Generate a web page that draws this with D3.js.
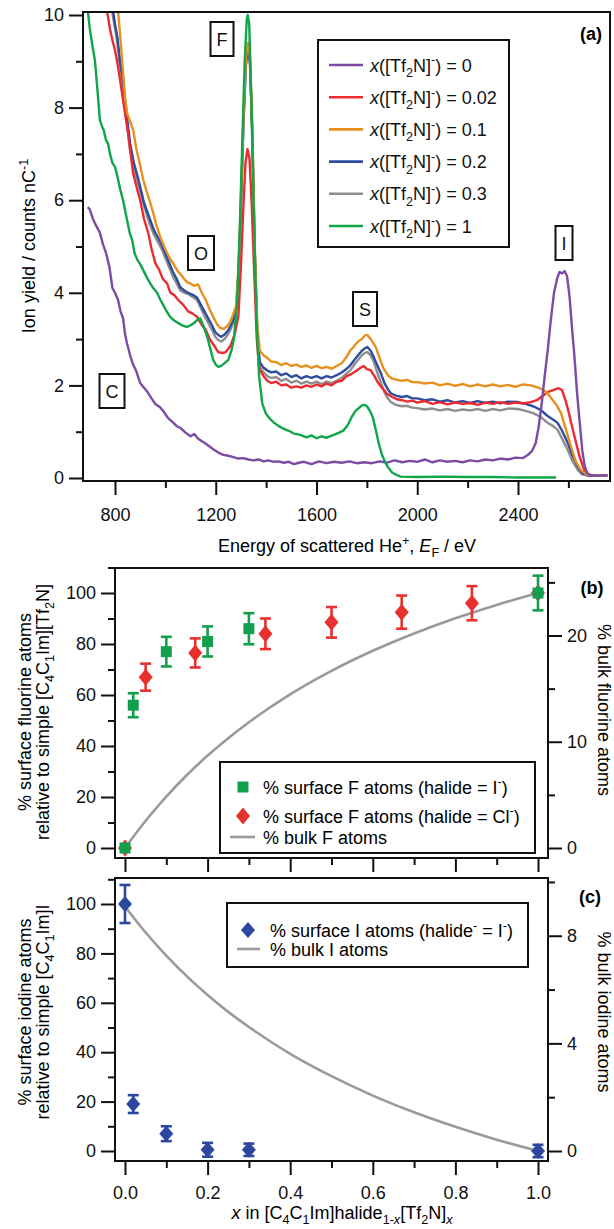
<!DOCTYPE html>
<html><head><meta charset="utf-8">
<script src="https://cdn.jsdelivr.net/npm/d3@7"></script>
<style>
body{margin:0;background:#fff}
svg text{font-family:"Liberation Sans",Arial,Helvetica,sans-serif}
</style></head>
<body><svg id="c" width="614" height="1229"></svg>
<script>
// ---------------- DATA ----------------
// Panel (a): ion yield spectra [energy eV, counts/nC]
const specX0 = [[692,5.85],[700,5.8],[712,5.6],[725,5.45],[740,5.3],[752,5.05],[765,4.85],[778,4.55],[790,4.1],[800,4.0],[812,3.85],[822,3.6],[832,3.45],[840,3.1],[848,2.9],[860,2.65],[872,2.45],[885,2.3],[900,2.05],[915,1.95],[930,1.85],[945,1.72],[960,1.6],[979,1.53],[995,1.42],[1010,1.3],[1030,1.2],[1045,1.12],[1060,1.08],[1080,0.98],[1100,0.9],[1115,0.95],[1130,0.85],[1150,0.78],[1170,0.7],[1190,0.62],[1210,0.55],[1230,0.5],[1250,0.48],[1270,0.45],[1290,0.42],[1310,0.43],[1330,0.4],[1350,0.38],[1370,0.4],[1390,0.36],[1410,0.38],[1430,0.35],[1450,0.36],[1470,0.33],[1490,0.35],[1510,0.3],[1530,0.33],[1550,0.35],[1580,0.3],[1610,0.36],[1640,0.32],[1670,0.35],[1700,0.33],[1730,0.36],[1760,0.32],[1790,0.34],[1820,0.32],[1850,0.36],[1880,0.33],[1910,0.38],[1940,0.34],[1970,0.37],[2000,0.35],[2030,0.4],[2060,0.34],[2090,0.38],[2120,0.35],[2150,0.37],[2180,0.34],[2210,0.38],[2240,0.36],[2270,0.4],[2300,0.38],[2330,0.42],[2360,0.4],[2390,0.44],[2420,0.43],[2440,0.5],[2455,0.58],[2470,0.75],[2482,1.1],[2494,1.6],[2506,2.2],[2518,2.76],[2530,3.4],[2543,4.0],[2555,4.3],[2565,4.45],[2575,4.42],[2585,4.47],[2595,4.35],[2605,3.9],[2615,3.2],[2623,2.7],[2635,1.8],[2645,1.2],[2655,0.6],[2665,0.25],[2675,0.1],[2690,0.06],[2720,0.05],[2755,0.06]];
const specX002 = [[768,10.1],[780,9.7],[790,9.45],[800,9.24],[810,8.95],[820,8.6],[832,8.16],[842,7.8],[852,7.45],[862,7.0],[872,6.58],[885,6.3],[900,6.0],[915,5.6],[932,5.29],[945,4.95],[960,4.64],[975,4.5],[990,4.3],[1007,4.2],[1020,4.0],[1035,3.95],[1050,3.85],[1071,3.74],[1090,3.6],[1108,3.55],[1126,3.48],[1145,3.3],[1160,3.2],[1178,2.98],[1195,2.85],[1210,2.72],[1225,2.7],[1240,2.72],[1258,2.85],[1275,3.1],[1290,3.5],[1300,4.6],[1310,5.9],[1318,6.8],[1326,7.1],[1334,6.9],[1343,5.9],[1353,4.4],[1363,3.0],[1373,2.35],[1390,2.2],[1405,2.1],[1420,2.05],[1440,2.08],[1460,2.0],[1480,2.02],[1500,1.95],[1520,1.98],[1540,1.95],[1560,2.0],[1580,1.97],[1600,2.02],[1620,1.98],[1640,2.04],[1660,2.0],[1680,2.08],[1700,2.1],[1720,2.2],[1740,2.25],[1760,2.32],[1775,2.38],[1788,2.42],[1800,2.35],[1815,2.33],[1830,2.2],[1845,2.05],[1860,1.95],[1880,1.82],[1900,1.75],[1920,1.7],[1940,1.68],[1960,1.65],[1980,1.67],[2000,1.63],[2030,1.66],[2060,1.6],[2090,1.64],[2120,1.59],[2150,1.63],[2180,1.6],[2210,1.62],[2240,1.58],[2270,1.63],[2300,1.6],[2330,1.64],[2360,1.6],[2390,1.63],[2420,1.61],[2450,1.64],[2475,1.68],[2500,1.78],[2520,1.86],[2540,1.9],[2560,1.94],[2575,1.9],[2590,1.65],[2600,1.45],[2615,1.1],[2631,0.75],[2645,0.45],[2663,0.17],[2680,0.07],[2700,0.05],[2755,0.05]];
const specX01 = [[812,10.1],[820,9.6],[830,8.9],[840,8.2],[848,7.88],[860,7.7],[872,7.52],[885,7.1],[900,6.75],[912,6.44],[925,6.2],[940,5.95],[952,5.72],[965,5.45],[980,5.2],[995,5.0],[1007,4.86],[1020,4.72],[1031,4.64],[1045,4.5],[1060,4.4],[1075,4.3],[1086,4.23],[1100,4.2],[1115,4.15],[1130,4.18],[1145,4.0],[1160,3.85],[1175,3.65],[1190,3.48],[1205,3.32],[1218,3.24],[1232,3.22],[1245,3.28],[1258,3.37],[1270,3.55],[1280,3.7],[1290,4.5],[1300,6.0],[1310,7.8],[1320,9.1],[1328,9.4],[1336,9.1],[1345,7.6],[1355,5.0],[1365,3.3],[1375,2.75],[1390,2.65],[1405,2.59],[1420,2.52],[1440,2.5],[1460,2.44],[1480,2.48],[1500,2.42],[1520,2.45],[1540,2.4],[1560,2.43],[1580,2.38],[1600,2.42],[1620,2.37],[1640,2.4],[1660,2.36],[1680,2.42],[1700,2.48],[1720,2.62],[1735,2.76],[1750,2.85],[1765,2.95],[1780,3.0],[1792,3.08],[1802,3.09],[1815,3.0],[1825,2.92],[1835,2.83],[1850,2.6],[1865,2.38],[1883,2.22],[1900,2.15],[1920,2.12],[1940,2.1],[1960,2.12],[1980,2.07],[2000,2.07],[2030,2.04],[2060,2.06],[2090,2.0],[2120,2.04],[2150,1.99],[2180,2.03],[2210,1.98],[2240,2.02],[2270,1.98],[2300,2.02],[2330,1.98],[2360,2.01],[2390,1.97],[2420,2.02],[2452,2.0],[2480,1.95],[2500,1.9],[2518,1.83],[2535,1.7],[2550,1.6],[2571,1.4],[2590,1.05],[2611,0.67],[2630,0.35],[2650,0.17],[2670,0.08],[2700,0.05],[2755,0.05]];
const specX02 = [[792,10.1],[800,9.8],[810,9.5],[820,9.0],[832,8.6],[845,7.9],[860,7.23],[875,6.8],[888,6.55],[900,6.29],[915,5.95],[928,5.75],[940,5.57],[955,5.35],[970,5.2],[985,5.05],[1000,4.85],[1015,4.65],[1030,4.45],[1045,4.3],[1059,4.12],[1075,4.05],[1090,4.0],[1111,3.95],[1125,3.9],[1140,3.75],[1155,3.6],[1170,3.45],[1185,3.3],[1198,3.15],[1210,3.09],[1222,3.05],[1235,3.1],[1248,3.18],[1260,3.3],[1272,3.45],[1282,3.7],[1290,4.4],[1300,5.9],[1310,7.7],[1320,9.0],[1328,9.3],[1336,9.0],[1345,7.5],[1355,4.9],[1365,3.1],[1375,2.5],[1390,2.38],[1405,2.32],[1420,2.28],[1440,2.3],[1460,2.22],[1480,2.26],[1500,2.18],[1520,2.22],[1540,2.15],[1560,2.2],[1580,2.16],[1600,2.2],[1620,2.15],[1640,2.2],[1660,2.17],[1680,2.22],[1700,2.28],[1720,2.36],[1735,2.44],[1750,2.55],[1765,2.65],[1780,2.75],[1792,2.8],[1802,2.83],[1815,2.75],[1828,2.6],[1840,2.45],[1855,2.27],[1870,2.05],[1883,1.92],[1895,1.83],[1915,1.78],[1940,1.75],[1960,1.77],[1980,1.72],[2000,1.72],[2030,1.68],[2060,1.7],[2090,1.65],[2120,1.68],[2150,1.63],[2180,1.66],[2210,1.62],[2240,1.66],[2270,1.62],[2300,1.65],[2330,1.61],[2360,1.65],[2400,1.64],[2430,1.6],[2460,1.55],[2490,1.47],[2515,1.35],[2540,1.26],[2557,1.19],[2575,1.02],[2598,0.75],[2615,0.5],[2638,0.24],[2655,0.1],[2680,0.05],[2755,0.05]];
const specX03 = [[788,10.1],[797,9.8],[808,9.45],[818,9.0],[830,8.55],[843,7.85],[858,7.15],[872,6.75],[886,6.48],[900,6.2],[915,5.88],[928,5.65],[940,5.45],[955,5.25],[970,5.1],[985,4.95],[1000,4.75],[1015,4.55],[1030,4.35],[1045,4.2],[1059,4.05],[1075,4.0],[1090,3.98],[1111,3.9],[1125,3.85],[1140,3.68],[1155,3.5],[1170,3.35],[1185,3.2],[1198,3.05],[1210,2.98],[1222,2.95],[1235,3.0],[1248,3.1],[1260,3.22],[1272,3.4],[1282,3.65],[1290,4.3],[1300,5.8],[1310,7.6],[1320,8.9],[1328,9.2],[1336,8.9],[1345,7.4],[1355,4.8],[1365,3.0],[1375,2.4],[1390,2.28],[1405,2.2],[1420,2.16],[1440,2.18],[1460,2.1],[1480,2.14],[1500,2.06],[1520,2.1],[1540,2.04],[1560,2.08],[1580,2.04],[1600,2.08],[1620,2.03],[1640,2.08],[1660,2.05],[1680,2.1],[1700,2.16],[1720,2.26],[1735,2.33],[1750,2.45],[1765,2.55],[1780,2.65],[1792,2.7],[1802,2.72],[1815,2.65],[1828,2.5],[1840,2.3],[1855,2.07],[1870,1.85],[1883,1.72],[1895,1.64],[1915,1.58],[1940,1.55],[1960,1.56],[1980,1.52],[2000,1.51],[2030,1.48],[2060,1.5],[2090,1.46],[2120,1.49],[2150,1.45],[2180,1.48],[2210,1.46],[2240,1.49],[2270,1.45],[2300,1.49],[2330,1.46],[2360,1.5],[2400,1.49],[2430,1.45],[2460,1.4],[2490,1.32],[2515,1.2],[2540,1.12],[2557,1.04],[2575,0.85],[2598,0.6],[2615,0.38],[2638,0.17],[2655,0.08],[2680,0.05],[2755,0.05]];
const specX1 = [[692,10.1],[700,9.7],[710,9.35],[720,9.03],[730,8.4],[740,7.73],[748,7.6],[756,7.5],[764,7.3],[772,7.23],[780,7.0],[790,6.8],[800,6.72],[810,6.5],[820,6.25],[832,6.0],[845,5.65],[858,5.3],[868,5.14],[878,4.85],[890,4.7],[900,4.62],[912,4.49],[925,4.35],[940,4.2],[955,4.08],[967,4.0],[980,3.85],[995,3.7],[1007,3.58],[1019,3.48],[1035,3.4],[1050,3.35],[1065,3.3],[1086,3.26],[1100,3.3],[1115,3.35],[1128,3.42],[1138,3.45],[1150,3.3],[1166,3.05],[1178,2.8],[1190,2.55],[1200,2.45],[1210,2.4],[1222,2.42],[1235,2.48],[1250,2.55],[1262,2.75],[1272,3.0],[1285,3.8],[1295,5.3],[1305,7.2],[1315,9.0],[1323,9.9],[1327,10.0],[1333,9.8],[1342,8.0],[1352,5.5],[1362,3.4],[1372,2.2],[1385,1.6],[1400,1.38],[1415,1.28],[1430,1.2],[1450,1.12],[1470,1.06],[1490,1.02],[1510,0.96],[1536,0.93],[1560,0.88],[1580,0.92],[1600,0.86],[1620,0.9],[1640,0.87],[1668,0.93],[1690,0.98],[1708,1.03],[1725,1.15],[1740,1.32],[1755,1.45],[1770,1.52],[1780,1.57],[1790,1.58],[1800,1.55],[1812,1.45],[1823,1.32],[1835,1.05],[1847,0.75],[1860,0.5],[1872,0.35],[1883,0.24],[1900,0.12],[1920,0.06],[1934,0.03],[2000,0.02],[2100,0.03],[2200,0.02],[2300,0.02],[2400,0.01],[2500,0.01],[2551,0.01]];
const seriesFractions = ["0","0.02","0.1","0.2","0.3","1"];
const seriesData = [specX0, specX002, specX01, specX02, specX03, specX1];
const seriesColors = ["#7B4BA6","#EC2A30","#E8901E","#2F4CA0","#8E8E8E","#10A64A"];
const drawOrder = [4,3,1,2,0,5];
const energyMajorTicks = [800,1200,1600,2000,2400];
const energyMinorTicks = [1000,1400,1800,2200,2600];
const yieldMajorTicks = [0,2,4,6,8,10];
const yieldMinorTicks = [1,3,5,7,9];
const peakLabels = ["F","O","S","I","C"];

// Panel (b)
const xHalideI = [0, 0.02, 0.1, 0.2, 0.3, 1.0];
const surfF_I = [0, 56, 77, 81, 86, 100];
const errF_I = [0, 4.7, 5.8, 5.9, 6.1, 6.8];
const xHalideCl = [0, 0.05, 0.17, 0.34, 0.5, 0.67, 0.84, 1.0];
const surfF_Cl = [0, 67, 76.5, 84, 88.5, 92.5, 96, 100];
const errF_Cl = [0, 5.3, 5.7, 6.0, 6.0, 6.5, 6.7, 0];
const xBulk = [0,0.05,0.1,0.15,0.2,0.25,0.3,0.4,0.5,0.6,0.7,0.8,0.9,1.0];
const bulkF = [0,2.56,4.84,6.87,8.70,10.34,11.84,14.46,16.67,18.56,20.19,21.62,22.88,24.0];
// Panel (c)
const xIod = [0, 0.02, 0.1, 0.2, 0.3, 1.0];
const surfI = [100, 19, 7, 0.5, 0.5, 0];
const errI = [7.7, 3.6, 3.0, 2.8, 2.5, 2.5];
const bulkI = [9.09,8.12,7.26,6.49,5.80,5.17,4.61,3.61,2.78,2.06,1.44,0.90,0.42,0];
const pctMajor = [0,20,40,60,80,100];
const pctMinor = [10,30,50,70,90,110];
const bulkFMajor = [0,10,20], bulkFMinor = [5,15,25];
const bulkIMajor = [0,4,8], bulkIMinor = [2,6,10];
const xMajor = [0,0.2,0.4,0.6,0.8,1.0], xMinor = [0.1,0.3,0.5,0.7,0.9];

// ---------------- DRAW ----------------
const FS = 18;
const svg = d3.select("#c");
const BLACK = "#111";

function rich(sel, parts){
  let shift = 0;
  parts.forEach(p => {
    const [t, type] = Array.isArray(p) ? p : [p, "n"];
    const ts = sel.append("tspan").text(t);
    let target = 0;
    if (type === "sub" || type === "isub") target = FS*0.3;
    if (type === "sup") target = -FS*0.4;
    ts.attr("dy", target - shift); shift = target;
    if (type === "sub" || type === "sup" || type === "isub") ts.attr("font-size", FS*0.7);
    if (type === "i" || type === "isub") ts.attr("font-style", "italic");
  });
  return sel;
}
function styleAxis(g){
  g.select(".domain").remove();
  g.attr("font-size", FS).attr("font-family", null);
  g.selectAll(".tick line").attr("stroke", BLACK).attr("stroke-width", 2);
  g.selectAll(".tick text").attr("fill", BLACK);
}
function axes(make, pos, major, minor, labels, pad, fmt){
  const gmin = svg.append("g").attr("transform", pos)
    .call(make().tickValues(minor).tickSize(7).tickFormat("").tickSizeOuter(0));
  styleAxis(gmin);
  const a = make().tickValues(major).tickSize(14).tickSizeOuter(0).tickPadding(pad);
  if (!labels) a.tickFormat(""); else if (fmt) a.tickFormat(fmt);
  const gmaj = svg.append("g").attr("transform", pos).call(a);
  styleAxis(gmaj);
  return gmaj;
}
function frame(x0,y0,x1,y1){
  svg.append("rect").attr("x",x0).attr("y",y0).attr("width",x1-x0).attr("height",y1-y0)
    .attr("fill","none").attr("stroke",BLACK).attr("stroke-width",2);
}

// ===== Panel (a) =====
const A = {l:83, t:12, r:610, b:481};
const ax = d3.scaleLinear().domain([800,2400]).range([115,518]);
const ay = d3.scaleLinear().domain([0,10]).range([478,15]);
svg.append("clipPath").attr("id","clipA").append("rect")
  .attr("x",A.l).attr("y",A.t+1).attr("width",A.r-A.l).attr("height",A.b-A.t);
const line = d3.line().x(d=>ax(d[0])).y(d=>ay(d[1]));
const gl = svg.append("g").attr("clip-path","url(#clipA)");
drawOrder.forEach(i => {
  gl.append("path").datum(seriesData[i]).attr("d", line)
    .attr("fill","none").attr("stroke",seriesColors[i]).attr("stroke-width",2.4)
    .attr("stroke-linejoin","round");
});
frame(A.l,A.t,A.r,A.b);
axes(()=>d3.axisBottom(ax), `translate(0,${A.b})`, energyMajorTicks, energyMinorTicks, true, 13, d3.format("d"));
axes(()=>d3.axisLeft(ay), `translate(${A.l},0)`, yieldMajorTicks, yieldMinorTicks, true, 5, d3.format("d"));

// legend (a)
svg.append("rect").attr("x",318).attr("y",40).attr("width",191).attr("height",207)
  .attr("fill","#fff").attr("stroke",BLACK).attr("stroke-width",2);
seriesFractions.forEach((f,i)=>{
  const y = 65 + i*32.2;
  svg.append("line").attr("x1",329).attr("x2",363).attr("y1",y).attr("y2",y)
    .attr("stroke",seriesColors[i]).attr("stroke-width",2.6);
  rich(svg.append("text").attr("x",370).attr("y",y+6.5).attr("font-size",FS).attr("fill",BLACK),
    [["x","i"],"([Tf",["2","sub"],"N]",["-","sup"],") = "+f]);
});
// peak label boxes
const peakPos = {F:[222,39], O:[201,253], S:[365,309], I:[564,243], C:[112,391]};
peakLabels.forEach(k=>{
  const [cx,cy] = peakPos[k];
  const g = svg.append("g");
  const r = g.append("rect");
  const t = g.append("text").attr("x",cx).attr("y",cy+6.5).attr("text-anchor","middle")
    .attr("font-size",FS).attr("fill",BLACK).text(k);
  const w = t.node().getComputedTextLength() + 12;
  r.attr("x",cx-w/2).attr("y",cy-17).attr("width",w).attr("height",34)
    .attr("fill","#fff").attr("stroke",BLACK).attr("stroke-width",2);
});
svg.append("text").attr("x",591).attr("y",40).attr("text-anchor","middle")
  .attr("font-size",FS).attr("font-weight","bold").text("(a)");
rich(svg.append("text").attr("x",347).attr("y",552).attr("text-anchor","middle").attr("font-size",FS),
  ["Energy of scattered He",["+","sup"],", ",["E","i"],["F","sub"]," / eV"]);
rich(svg.append("text").attr("transform","translate(35,246) rotate(-90)").attr("text-anchor","middle").attr("font-size",FS),
  ["Ion yield / counts nC",["-1","sup"]]);

// ===== Panels (b),(c) shared x =====
const px = d3.scaleLinear().domain([0,1]).range([125,538]);
const PL = 115, PR = 548;
function errBars(xs, ys, es, yScale, color){
  xs.forEach((x,i)=>{
    if (es[i] <= 0) return;
    const X = px(x), y1 = yScale(ys[i]-es[i]), y2 = yScale(ys[i]+es[i]);
    svg.append("line").attr("x1",X).attr("x2",X).attr("y1",y1).attr("y2",y2).attr("stroke",color).attr("stroke-width",2.6);
    [y1,y2].forEach(yy=>svg.append("line").attr("x1",X-5.5).attr("x2",X+5.5).attr("y1",yy).attr("y2",yy).attr("stroke",color).attr("stroke-width",2.6));
  });
}
function diamond(X,Y,hw,hh,color){
  svg.append("path").attr("d",`M${X},${Y-hh}L${X+hw},${Y}L${X},${Y+hh}L${X-hw},${Y}Z`).attr("fill",color);
}
function square(X,Y,s,color){
  svg.append("rect").attr("x",X-s/2).attr("y",Y-s/2).attr("width",s).attr("height",s).attr("fill",color);
}
const GREEN="#13A04E", RED="#E8302F", BLUE="#2D47A0", GRAY="#9A9A9A";

// ===== Panel (b) =====
const B = {t:568, b:858};
const by = d3.scaleLinear().domain([0,100]).range([848,593]);
const byR = d3.scaleLinear().domain([0,24]).range([848,593]);
svg.append("path").datum(xBulk.map((x,i)=>[x,bulkF[i]]))
  .attr("d", d3.line().x(d=>px(d[0])).y(d=>byR(d[1])).curve(d3.curveMonotoneX))
  .attr("fill","none").attr("stroke",GRAY).attr("stroke-width",2.6);
errBars(xHalideCl, surfF_Cl, errF_Cl, by, RED);
xHalideCl.forEach((x,i)=>diamond(px(x), by(surfF_Cl[i]), 7, 8.5, RED));
errBars(xHalideI, surfF_I, errF_I, by, GREEN);
xHalideI.forEach((x,i)=>square(px(x), by(surfF_I[i]), 11, GREEN));
frame(PL,B.t,PR,B.b);
axes(()=>d3.axisLeft(by), `translate(${PL},0)`, pctMajor, pctMinor, true, 5);
axes(()=>d3.axisRight(byR), `translate(${PR},0)`, bulkFMajor, bulkFMinor, true, 5);
axes(()=>d3.axisBottom(px), `translate(0,${B.b})`, xMajor, xMinor, false, 5);
// legend (b)
svg.append("rect").attr("x",220).attr("y",762).attr("width",315).attr("height",91)
  .attr("fill","#fff").attr("stroke",BLACK).attr("stroke-width",2);
square(243,787,11,GREEN);
rich(svg.append("text").attr("x",263).attr("y",793.5).attr("font-size",FS),
  ["% surface F atoms (halide = I",["-","sup"],")"]);
diamond(243,816,7,8.5,RED);
rich(svg.append("text").attr("x",263).attr("y",822.5).attr("font-size",FS),
  ["% surface F atoms (halide = Cl",["-","sup"],")"]);
svg.append("line").attr("x1",230).attr("x2",255).attr("y1",837).attr("y2",837).attr("stroke",GRAY).attr("stroke-width",2.6);
svg.append("text").attr("x",263).attr("y",843.5).attr("font-size",FS).text("% bulk F atoms");
svg.append("text").attr("x",592).attr("y",594).attr("text-anchor","middle")
  .attr("font-size",FS).attr("font-weight","bold").text("(b)");
svg.append("text").attr("transform","translate(31,712) rotate(-90)").attr("text-anchor","middle")
  .attr("font-size",FS).text("% surface fluorine atoms");
rich(svg.append("text").attr("transform","translate(49,712) rotate(-90)").attr("text-anchor","middle").attr("font-size",FS),
  ["relative to simple [C",["4","sub"],"C",["1","sub"],"Im][Tf",["2","sub"],"N]"]);
svg.append("text").attr("transform","translate(598,710) rotate(90)").attr("text-anchor","middle")
  .attr("font-size",FS).text("% bulk fluorine atoms");

// ===== Panel (c) =====
const C = {t:878, b:1161};
const cy = d3.scaleLinear().domain([0,100]).range([1151,904]);
const cyR = d3.scaleLinear().domain([0,9.18]).range([1151,904]);
svg.append("path").datum(xBulk.map((x,i)=>[x,bulkI[i]]))
  .attr("d", d3.line().x(d=>px(d[0])).y(d=>cyR(d[1])).curve(d3.curveMonotoneX))
  .attr("fill","none").attr("stroke",GRAY).attr("stroke-width",2.6);
errBars(xIod, surfI, errI, cy, BLUE);
xIod.forEach((x,i)=>diamond(px(x), cy(surfI[i]), 7, 8, BLUE));
frame(PL,C.t,PR,C.b);
axes(()=>d3.axisLeft(cy), `translate(${PL},0)`, pctMajor, pctMinor, true, 5);
axes(()=>d3.axisRight(cyR), `translate(${PR},0)`, bulkIMajor, bulkIMinor, true, 5);
axes(()=>d3.axisBottom(px), `translate(0,${C.b})`, xMajor, xMinor, true, 11, d3.format(".1f"));
// legend (c)
svg.append("rect").attr("x",227).attr("y",903).attr("width",301).attr("height",64)
  .attr("fill","#fff").attr("stroke",BLACK).attr("stroke-width",2);
diamond(248,930,7,8,BLUE);
rich(svg.append("text").attr("x",270).attr("y",937).attr("font-size",FS),
  ["% surface I atoms (halide",["-","sup"]," = I",["-","sup"],")"]);
svg.append("line").attr("x1",237).attr("x2",260).attr("y1",949).attr("y2",949).attr("stroke",GRAY).attr("stroke-width",2.6);
svg.append("text").attr("x",270).attr("y",956).attr("font-size",FS).text("% bulk I atoms");
svg.append("text").attr("x",590).attr("y",903).attr("text-anchor","middle")
  .attr("font-size",FS).attr("font-weight","bold").text("(c)");
svg.append("text").attr("transform","translate(31,1012) rotate(-90)").attr("text-anchor","middle")
  .attr("font-size",FS).text("% surface iodine atoms");
rich(svg.append("text").attr("transform","translate(49,1012) rotate(-90)").attr("text-anchor","middle").attr("font-size",FS),
  ["relative to simple [C",["4","sub"],"C",["1","sub"],"Im]I"]);
svg.append("text").attr("transform","translate(598,1012) rotate(90)").attr("text-anchor","middle")
  .attr("font-size",FS).text("% bulk iodine atoms");
rich(svg.append("text").attr("x",342).attr("y",1219).attr("text-anchor","middle").attr("font-size",FS),
  [["x","i"]," in [C",["4","sub"],"C",["1","sub"],"Im]halide",["1-","sub"],["x","isub"],"[Tf",["2","sub"],"N]",["x","isub"]]);
</script></body></html>
